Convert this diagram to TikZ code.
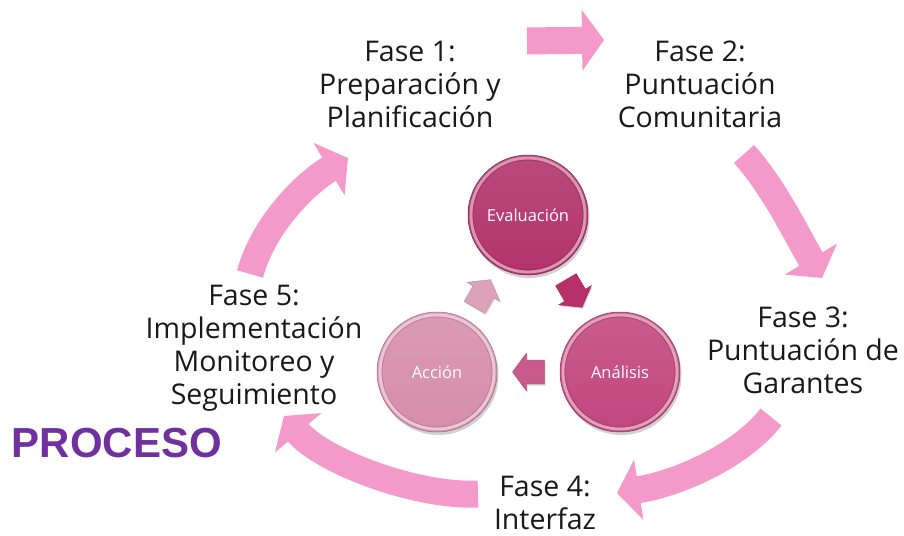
\documentclass[tikz,border=0pt]{standalone}
\usepackage{fontspec}
\setmainfont{Open Sans}
\newfontfamily\procfont{Liberation Sans}
\usetikzlibrary{arrows.meta,shadows,calc}
\definecolor{bigpink}{HTML}{F39ACA}
\definecolor{evalc}{HTML}{B2326A}
\definecolor{analc}{HTML}{C2467D}
\definecolor{accc}{HTML}{D68DAA}
\definecolor{arrEA}{HTML}{B8306A}
\definecolor{arrAA}{HTML}{C85A8C}
\definecolor{arrAE}{HTML}{DCA2BA}
\definecolor{procc}{HTML}{7030A0}
\begin{document}
\begin{tikzpicture}[x=1pt,y=-1pt,
  bigarrow/.style={draw=bigpink, line width=27pt, -{Triangle[length=22pt,width=60pt]}},
  phase/.style={align=center, inner sep=0pt, font=\fontsize{28.5}{33}\selectfont, text=black!90},
  circ/.style={circle, minimum size=120pt, inner sep=0pt, text=white,
    font=\fontsize{16.5}{19}\selectfont,
    top color=#1!88!white, bottom color=#1, draw=#1!75!black, line width=0.5pt,
    drop shadow={shadow xshift=1.5pt, shadow yshift=-3pt, opacity=0.3, fill=black!60},
    path picture={
      \draw[#1!50!white, line width=3pt] (path picture bounding box.center) circle[radius=57pt];
      \draw[#1!80!black, line width=0.8pt, opacity=0.6] (path picture bounding box.center) circle[radius=55pt];
    }},
  smallarrow/.style={fill=#1, draw=#1!85!black, line width=0.4pt,
    drop shadow={shadow xshift=1pt, shadow yshift=-1.5pt, opacity=0.25, fill=black!60}}
]
\useasboundingbox (0,0) rectangle (904,535);

% outer cycle arrows
\coordinate (a1s) at (527,41);  \coordinate (a1e) at (604,40);
\coordinate (a2s) at (744,154); \coordinate (a2e) at (822,278);
\coordinate (a3s) at (771,417); \coordinate (a3e) at (617,493);
\coordinate (a4s) at (478,494); \coordinate (a4e) at (284,416);
\coordinate (a5s) at (250,274); \coordinate (a5e) at (348,158);
\draw[bigarrow] (a1s) -- (a1e);
\draw[bigarrow] (a2s) .. controls (774,187) and (799,239) .. (a2e);
\draw[bigarrow] (a3s) .. controls (740,457) and (676,484) .. (a3e);
\draw[bigarrow] (a4s) .. controls (418,497) and (323,462) .. (a4e);
\draw[bigarrow] (a5s) .. controls (263,226) and (304,184) .. (a5e);

% phase texts
\node[phase] (f1) at (410,84) {Fase 1:\\Preparación y\\Planificación};
\node[phase] (f2) at (700,84) {Fase 2:\\Puntuación\\Comunitaria};
\node[phase] (f3) at (803,350) {Fase 3:\\Puntuación de\\Garantes};
\node[phase] (f4) at (545,503) {Fase 4:\\Interfaz};
\node[phase] (f5) at (254,348) {Fase 5:\\Implementación\\Monitoreo y\\Seguimiento};

\node[font=\procfont\bfseries\fontsize{42}{48}\selectfont, text=procc, inner sep=0pt] (proc) at (117,443) {PROCESO};

% inner cycle
\node[circ=evalc] (E) at (528,215) {Evaluación};
\node[circ=analc] (An) at (620,372) {Análisis};
\node[circ=accc] (Ac) at (437,372) {Acción};

% small block arrows between the circles
\begin{scope}[shift={($(E)!0.5!(An)$)}, rotate=-59.6]
  \path[smallarrow=arrEA] (-16,-12) -- (2,-12) -- (2,-19) -- (16,0) -- (2,19) -- (2,12) -- (-16,12) -- cycle;
\end{scope}
\begin{scope}[shift={($(An)!0.5!(Ac)$)}, rotate=180]
  \path[smallarrow=arrAA] (-16,-12) -- (2,-12) -- (2,-19) -- (16,0) -- (2,19) -- (2,12) -- (-16,12) -- cycle;
\end{scope}
\begin{scope}[shift={($(Ac)!0.5!(E)$)}, rotate=59.9]
  \path[smallarrow=arrAE] (-16,-12) -- (2,-12) -- (2,-19) -- (16,0) -- (2,19) -- (2,12) -- (-16,12) -- cycle;
\end{scope}
\end{tikzpicture}
\end{document}
